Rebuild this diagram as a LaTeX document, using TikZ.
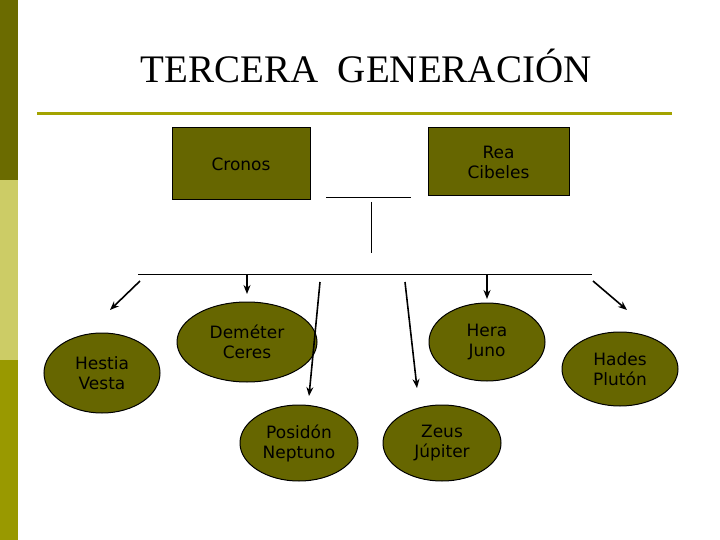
\documentclass[tikz,border=0pt]{standalone}
\usepackage{fontspec}
\setmainfont{Liberation Serif}
\newfontfamily\vfont{DejaVu Sans}
\usetikzlibrary{arrows.meta,shapes.geometric}
\definecolor{olv}{HTML}{666600}
\definecolor{bar1}{HTML}{6B6B00}
\definecolor{bar2}{HTML}{CCCC66}
\definecolor{bar3}{HTML}{999900}
\definecolor{rule}{HTML}{A3A300}
\begin{document}
\begin{tikzpicture}[x=1pt,y=-1pt,line width=1pt,
  boxn/.style={draw=black,fill=olv,inner sep=0pt,font=\vfont\fontsize{17}{20}\selectfont,align=center,text=black},
  elln/.style={draw=black,fill=olv,ellipse,inner sep=0pt,font=\vfont\fontsize{17}{20}\selectfont,align=center},
  arr/.style={-{Stealth[length=9pt,width=7pt]},line width=1.6pt}]
\useasboundingbox (0,0) rectangle (720,540);
\fill[white] (0,0) rectangle (720,540);
\fill[bar1] (0,0) rectangle (18,180);
\fill[bar2] (0,180) rectangle (18,360);
\fill[bar3] (0,360) rectangle (18,540);
\node (title) at (366,66) {\fontsize{39}{44}\selectfont TERCERA\ \ GENERACIÓN};
\draw[rule,line width=3pt] (37,114) -- (672,114);
\node[boxn,minimum width=138pt,minimum height=72pt] (cronos) at (241,164) {Cronos};
\node[boxn,minimum width=141pt,minimum height=68pt] (rea) at (498.5,162) {Rea\\Cibeles};
\coordinate (m1) at (326,198); \coordinate (m2) at (411,198);
\draw (m1) -- (m2);
\coordinate (v1) at (371,202); \coordinate (v2) at (371,253);
\draw (v1) -- (v2);
\coordinate (h1) at (138,274); \coordinate (h2) at (592,274);
\draw (h1) -- (h2);
\node[elln,minimum width=116pt,minimum height=80pt] (hestia) at (102,373) {Hestia\\Vesta};
\node[elln,minimum width=140pt,minimum height=80pt] (demeter) at (247,342) {Deméter\\Ceres};
\node[elln,minimum width=116pt,minimum height=78pt] (hera) at (487,342) {Hera\\Juno};
\node[elln,minimum width=118pt,minimum height=76pt] (posidon) at (299,443) {Posidón\\Neptuno};
\node[elln,minimum width=118pt,minimum height=76pt] (zeus) at (442,443) {Zeus\\Júpiter};
\node[elln,minimum width=116pt,minimum height=74pt] (hades) at (620,369) {Hades\\Plutón};
\coordinate (a1) at (140,281); \coordinate (b1) at (110,310);
\coordinate (a2) at (247,274); \coordinate (b2) at (247,294);
\coordinate (a3) at (320,282); \coordinate (b3) at (309,396);
\coordinate (a4) at (405,282); \coordinate (b4) at (417,388);
\coordinate (a5) at (487,274); \coordinate (b5) at (487,299);
\coordinate (a6) at (593,281); \coordinate (b6) at (627,310);
\foreach \i in {1,...,6} \draw[arr] (a\i) -- (b\i);
\end{tikzpicture}
\end{document}
